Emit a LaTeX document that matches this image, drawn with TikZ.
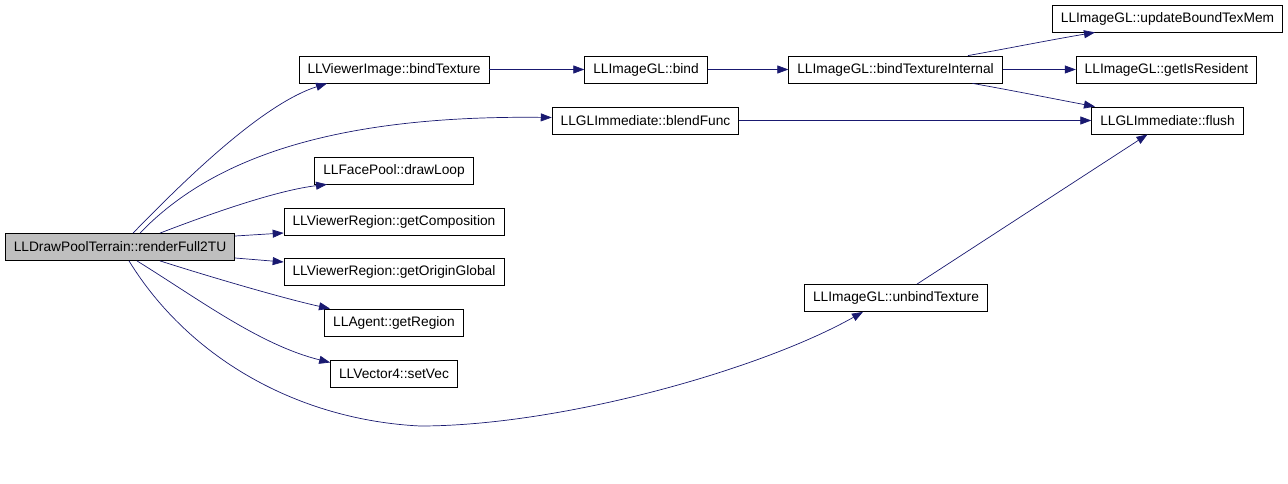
\documentclass[tikz,border=0pt]{standalone}
\usepackage{fontspec}
\setmainfont{Liberation Sans}
\usepackage{xcolor}
\usepackage{tikz}
\usetikzlibrary{arrows.meta}

\definecolor{EdgeBlue}{HTML}{191970}

\begin{document}
\begin{tikzpicture}[x=1pt, y=-1pt,
  func/.style={rectangle, draw=black, line width=0.8pt, fill=white,
    minimum height=27pt, inner xsep=8.5pt, inner ysep=0pt,
    font=\fontsize{13.75}{16}\selectfont},
  %
  caller/.style={func, fill=gray!50},
  %
  call/.style={-{Triangle[length=11pt, width=8pt]}, draw=EdgeBlue,
    line width=0.7pt}
  ]

  \useasboundingbox (0,0) rectangle (1288,484);

  \begin{scope}
    %%%%%%%%%%%%%%%%%%%%%%%%%%%%%%%
    \node [caller] (render) at (120,247) {LLDrawPoolTerrain::renderFull2TU};
    %%%%%%%%%%%%%%%%%%%%%%%%%%%%%%%
    \node [func] (bindTex) at (394,69.5) {LLViewerImage::bindTexture};
    \node [func] (drawLoop) at (394,170.5) {LLFacePool::drawLoop};
    \node [func] (getComp) at (394,221.5) {LLViewerRegion::getComposition};
    \node [func] (getOrigin) at (394,272) {LLViewerRegion::getOriginGlobal};
    \node [func] (getRegion) at (394,322.5) {LLAgent::getRegion};
    \node [func] (setVec) at (394,373.5) {LLVector4::setVec};
    %%%%%%%%%%%%%%%%%%%%%%%%%%%%%%%
    \node [func] (bind) at (646,69.5) {LLImageGL::bind};
    \node [func] (blendFunc) at (645.5,120.5) {LLGLImmediate::blendFunc};
    %%%%%%%%%%%%%%%%%%%%%%%%%%%%%%%
    \node [func] (bindInt) at (895.5,69.5) {LLImageGL::bindTextureInternal};
    \node [func] (unbindTex) at (896,298) {LLImageGL::unbindTexture};
    %%%%%%%%%%%%%%%%%%%%%%%%%%%%%%%
    \node [func] (updateMem) at (1167.5,18.5) {LLImageGL::updateBoundTexMem};
    \node [func] (isResident) at (1166.5,69.5) {LLImageGL::getIsResident};
    \node [func] (flush) at (1167.5,120.5) {LLGLImmediate::flush};
  \end{scope}

  \begin{scope}
    \draw [call] ([xshift=13pt]render.north) .. controls (180,185) and (260,105)
      .. ([xshift=-67pt]bindTex.south);
    \draw [call] ([xshift=20pt]render.north) .. controls (210,160) and (330,115)
      .. ([yshift=3pt]blendFunc.west);
    \draw [call] ([xshift=40pt]render.north) .. controls (220,210) and (280,190)
      .. ([xshift=-67pt]drawLoop.south);
    \draw [call] ([yshift=11pt]render.east) -- ([yshift=-11.5pt]getComp.west);
    \draw [call] ([yshift=-11pt]render.east) -- ([yshift=10pt]getOrigin.west);
    \draw [call] ([xshift=40pt]render.south) .. controls (220,280) and (290,300)
      .. ([xshift=-64pt]getRegion.north);
    \draw [call] ([xshift=17pt]render.south) .. controls (200,300) and (260,345)
      .. ([yshift=11pt]setVec.west);
    \draw [call] ([xshift=9pt]render.south) .. controls (190,360) and (300,420)
      .. (420,426) .. controls (560,426) and (760,370)
      .. ([xshift=-33pt]unbindTex.south);
    %
    \draw [call] (bindTex) -- (bind);
    \draw [call] (bind) -- (bindInt);
    \draw [call] (blendFunc) -- (flush);
    %
    \draw [call] ([xshift=72.5pt]bindInt.north) .. controls (1010,48) and (1050,40)
      .. ([xshift=-72.5pt]updateMem.south);
    \draw [call] (bindInt) -- (isResident);
    \draw [call] ([xshift=77pt]bindInt.south) .. controls (1015,91) and (1055,99)
      .. ([xshift=-72.5pt]flush.north);
    \draw [call] ([xshift=21pt]unbindTex.north) -- ([xshift=-20pt]flush.south);
  \end{scope}

\end{tikzpicture}
\end{document}
